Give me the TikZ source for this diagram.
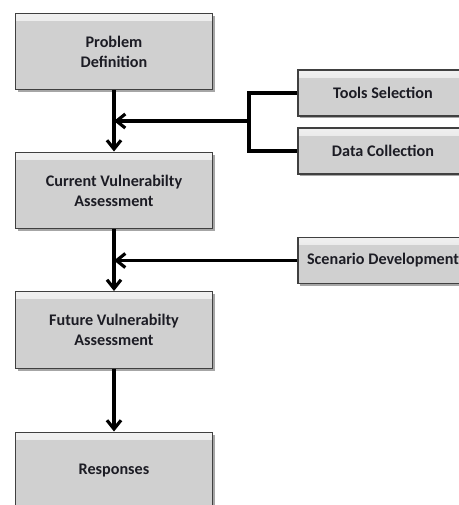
\documentclass[tikz,border=0pt]{standalone}
\usepackage{fontspec}
\setmainfont{Carlito}
\usetikzlibrary{shadows,arrows.meta}

\definecolor{boxgray}{RGB}{208,208,208}
\definecolor{boxtop}{RGB}{240,240,240}
\definecolor{boxline}{RGB}{64,64,64}
\definecolor{labelc}{RGB}{28,28,36}

\begin{document}
\begin{tikzpicture}[x=0.02cm,y=-0.02cm]
    \tikzstyle{box}=[rectangle, draw=boxline, line width=0.8pt, inner sep=0pt, fill=boxgray,
        path picture={\shade[top color=boxtop, bottom color=boxgray]
            (path picture bounding box.north west) rectangle ([yshift=-4pt]path picture bounding box.north east);},
        drop shadow={shadow xshift=1.4pt, shadow yshift=-1.4pt, fill=black, opacity=0.35},
        text=labelc, font=\fontsize{9.2}{11.3}\selectfont\bfseries, align=center]
    \tikzstyle{stage}=[box, minimum width=3.94cm, minimum height=1.53cm]
    \tikzstyle{input}=[box, minimum width=3.4cm, minimum height=0.92cm]
    \tikzstyle{flow}=[line width=1.8pt, -{Straight Barb[length=5pt,width=8pt]}]
    \tikzstyle{bracket}=[line width=1.8pt]

    \useasboundingbox (0,0) rectangle (459,505);
    \clip (0,0) rectangle (459,505);

    % main chain
    \node[stage] (problem) at (114,51.5) {Problem\\Definition};
    \node[stage] (current) at (114,190.5) {Current Vulnerabilty\\Assessment};
    \node[stage] (future) at (114,330) {Future Vulnerabilty\\Assessment};
    \node[stage] (responses) at (114,470.5) {Responses};

    % inputs on the right
    \node[input] (tools) at (383,93) {Tools Selection};
    \node[input] (data) at (383,151) {Data Collection};
    \node[input] (scenario) at (383,260.5) {Scenario Development};

    \coordinate (split) at (249,121);

    \draw[flow] (problem) -- (current);
    \draw[flow] (current) -- (future);
    \draw[flow] (future) -- (responses);

    \draw[bracket] (tools.west) -| (split) |- (data.west);
    \draw[flow] (split) -- (split -| problem.south);
    \draw[flow] (scenario.west) -- (scenario.west -| current.south);
\end{tikzpicture}
\end{document}
